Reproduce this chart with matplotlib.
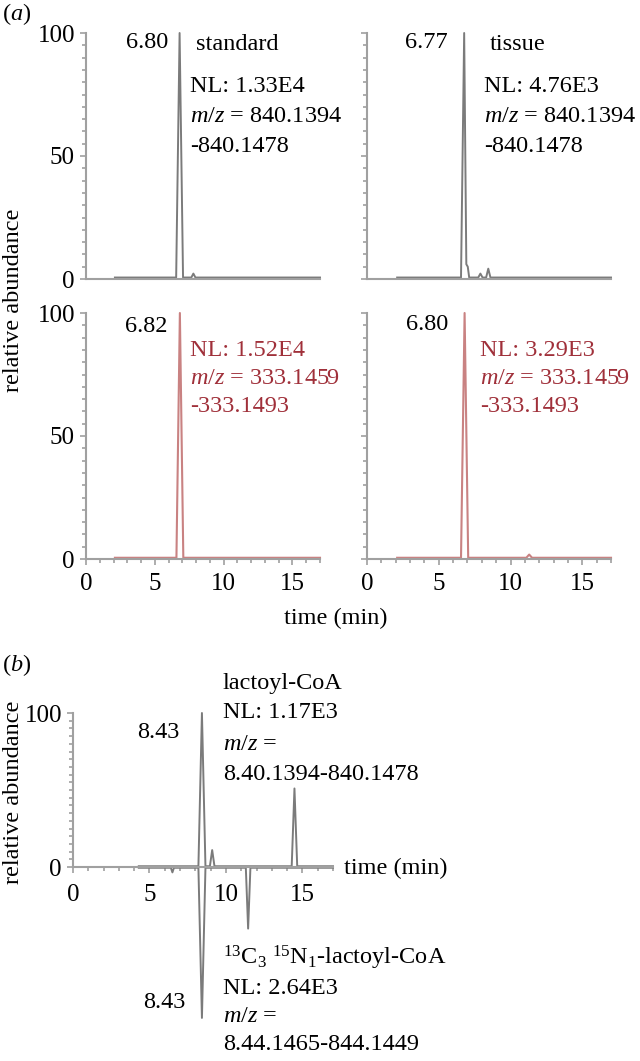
import matplotlib
matplotlib.use('Agg')
import matplotlib.pyplot as plt
from matplotlib.ticker import MultipleLocator

plt.rcParams['font.family'] = 'Liberation Serif'
plt.rcParams['mathtext.fontset'] = 'custom'
plt.rcParams['mathtext.rm'] = 'Liberation Serif'
plt.rcParams['mathtext.it'] = 'Liberation Serif:italic'

W, H = 640, 1061
GRAY = '#7b7b7b'
AXIS = '#a0a0a0'
RED_LINE = '#c98282'
RED_TEXT = '#a0303a'
FS = 17.5

# (a) lactoyl-CoA, m/z 840.1394-840.1478
std_t = [2.1, 6.55, 6.80, 7.05, 7.65, 7.8, 7.95, 17.0]
std_y = [0.6, 0.6, 100, 0.6, 0.6, 2.2, 0.6, 0.6]
tis_t = [2.1, 6.55, 6.77, 6.92, 7.02, 7.12, 7.75, 7.9, 8.05, 8.3, 8.45, 8.6, 17.0]
tis_y = [0.6, 0.6, 100, 6, 5, 0.6, 0.6, 2.2, 0.6, 0.6, 4.2, 0.6, 0.6]
# (a) m/z 333.1459-333.1493
std2_t = [2.1, 6.57, 6.82, 7.07, 17.0]
std2_y = [0.5, 0.5, 100, 0.5, 0.5]
tis2_t = [2.1, 6.55, 6.80, 7.05, 11.1, 11.3, 11.5, 17.0]
tis2_y = [0.5, 0.5, 100, 0.5, 0.5, 1.8, 0.5, 0.5]
# (b) mirror plot
lac_t = [4.3, 8.2, 8.43, 8.66, 8.95, 9.1, 9.25, 14.3, 14.48, 14.66, 17.0]
lac_y = [0.5, 0.5, 100, 0.5, 0.5, 11, 0.5, 0.5, 51, 0.5, 0.5]
lab_t = [4.3, 6.4, 6.5, 6.6, 8.2, 8.43, 8.66, 11.3, 11.45, 11.6, 17.0]
lab_y = [0.5, 0.5, 3.5, 0.5, 0.5, 98, 0.5, 0.5, 40, 0.5, 0.5]

fig = plt.figure(figsize=(W / 100, H / 100), dpi=100)


def px_axes(x0, x1, ytop, ybot):
    return fig.add_axes([x0 / W, 1 - ybot / H, (x1 - x0) / W, (ybot - ytop) / H])


def ftext(x, y, s, ha='left', color='black', **kw):
    fig.text(x / W, 1 - y / H, s, ha=ha, va='center', fontsize=FS, color=color, **kw)


def style(ax, ylabels, xlabels):
    for side in ['top', 'right']:
        ax.spines[side].set_visible(False)
    for side in ['left', 'bottom']:
        ax.spines[side].set_color(AXIS)
        ax.spines[side].set_linewidth(1.5)
    ax.set_xlim(0, 17)
    ax.set_ylim(0, 100)
    ax.set_yticks([0, 50, 100])
    ax.yaxis.set_minor_locator(MultipleLocator(5))
    if not ylabels:
        ax.set_yticklabels([])
    if xlabels:
        ax.set_xticks([0, 5, 10, 15])
        ax.xaxis.set_minor_locator(MultipleLocator(1))
    else:
        ax.set_xticks([])
    ax.tick_params(which='both', direction='out', color=AXIS, width=1.2,
                   labelsize=18, pad=4)
    ax.tick_params(axis='x', pad=6)
    ax.tick_params(which='major', length=4)
    ax.tick_params(which='minor', length=3)


ax1 = px_axes(86, 320, 33, 279)
ax2 = px_axes(367, 611, 33, 279)
ax3 = px_axes(86, 320, 313, 559)
ax4 = px_axes(367, 611, 313, 559)

ax1.plot(std_t, std_y, color=GRAY, lw=1.4, clip_on=False)
ax2.plot(tis_t, tis_y, color=GRAY, lw=1.4, clip_on=False)
ax3.plot(std2_t, std2_y, color=RED_LINE, lw=1.5, clip_on=False)
ax4.plot(tis2_t, tis2_y, color=RED_LINE, lw=1.5, clip_on=False)

style(ax1, True, False)
style(ax2, False, False)
style(ax3, True, True)
style(ax4, False, True)

ftext(2, 14, r'($\mathit{a}$)')
ftext(14, 300, 'relative abundance', ha='center', rotation=90)
ftext(336, 618, 'time (min)', ha='center')

ftext(168, 43, '6.80', ha='right')
ftext(196, 45, 'standard')
ftext(190, 86, 'NL: 1.33E4')
ftext(190, 116, r'$m/z$ = 840.1394')
ftext(190, 146, '-840.1478')

ftext(448, 42, '6.77', ha='right')
ftext(490, 45, 'tissue')
ftext(484, 86, 'NL: 4.76E3')
ftext(484, 116, r'$m/z$ = 840.1394')
ftext(484, 146, '-840.1478')

ftext(167, 326, '6.82', ha='right')
ftext(190, 350, 'NL: 1.52E4', color=RED_TEXT)
ftext(190, 379, r'$m/z$ = 333.1459', color=RED_TEXT)
ftext(190, 407, '-333.1493', color=RED_TEXT)

ftext(448, 325, '6.80', ha='right')
ftext(480, 350, 'NL: 3.29E3', color=RED_TEXT)
ftext(480, 379, r'$m/z$ = 333.1459', color=RED_TEXT)
ftext(480, 407, '-333.1493', color=RED_TEXT)

# (b)
axb = px_axes(73, 333, 713, 1021)
axb.plot(lac_t, lac_y, color=GRAY, lw=1.4, clip_on=False)
axb.plot(lab_t, [-v for v in lab_y], color=GRAY, lw=1.4, clip_on=False)
for side in ['top', 'right']:
    axb.spines[side].set_visible(False)
for side in ['left', 'bottom']:
    axb.spines[side].set_color(AXIS)
    axb.spines[side].set_linewidth(1.5)
axb.spines['bottom'].set_position(('data', 0))
axb.spines['left'].set_bounds(0, 100)
axb.set_xlim(0, 17)
axb.set_ylim(-100, 100)
axb.set_yticks([0, 100])
axb.set_yticks(list(range(0, 101, 5)), minor=True)
axb.set_xticks([0, 5, 10, 15])
axb.xaxis.set_minor_locator(MultipleLocator(1))
axb.tick_params(which='both', direction='out', color=AXIS, width=1.2,
                labelsize=18, pad=4)
axb.tick_params(axis='x', pad=8)
axb.tick_params(which='major', length=4)
axb.tick_params(which='minor', length=3)

ftext(2, 665, r'($\mathit{b}$)')
ftext(14, 792, 'relative abundance', ha='center', rotation=90)
ftext(344, 868, 'time (min)')
ftext(180, 733, '8.43', ha='right')
ftext(223, 683, 'lactoyl-CoA')
ftext(223, 713, 'NL: 1.17E3')
ftext(223, 745, r'$m/z$ =')
ftext(223, 774, '8.40.1394-840.1478')
ftext(185, 1003, '8.43', ha='right')
ftext(223, 958, r'$^{13}$C$_3$ $^{15}$N$_1$-lactoyl-CoA')
ftext(223, 988, 'NL: 2.64E3')
ftext(223, 1017, r'$m/z$ =')
ftext(223, 1045, '8.44.1465-844.1449')

fig.savefig('out.png', dpi=100)
